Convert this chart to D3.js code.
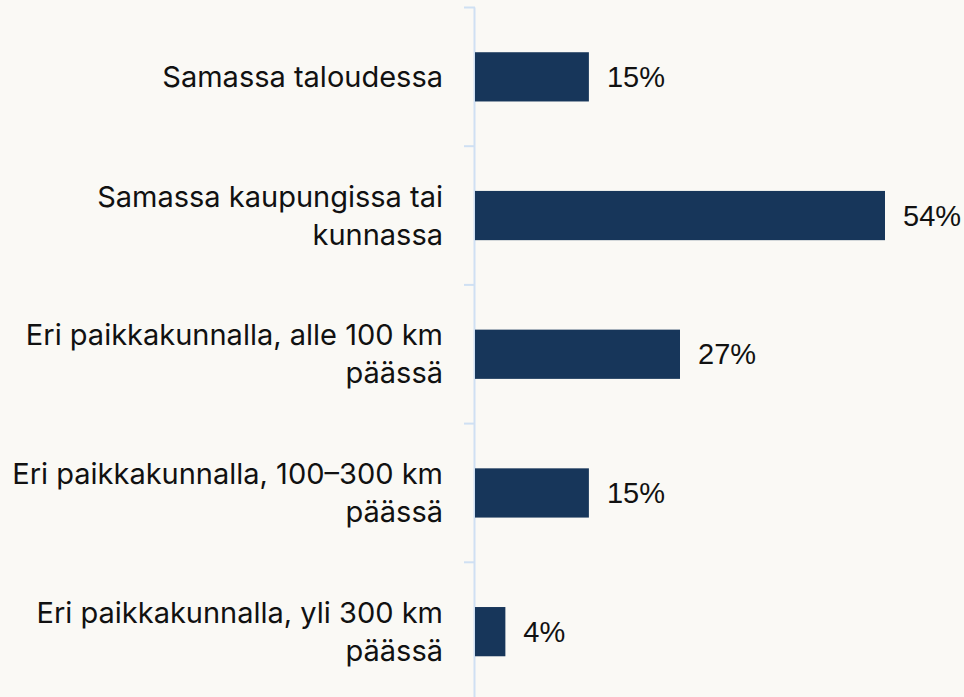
<!DOCTYPE html>
<html lang="fi">
  <head>
    <meta charset="UTF-8" />
    <title>Asuinpaikka</title>
    <style>
      html, body { margin: 0; padding: 0; background: #faf9f5; }
    </style>
  </head>
  <body>
    <script src="https://d3js.org/d3.v7.min.js"></script>
    <script>
      const width = 964
      const height = 697

      // luokat (rivitettyinä kuten kuvassa) ja osuudet
      const categories = [
        ["Samassa taloudessa"],
        ["Samassa kaupungissa tai", "kunnassa"],
        ["Eri paikkakunnalla, alle 100 km", "päässä"],
        ["Eri paikkakunnalla, 100–300 km", "päässä"],
        ["Eri paikkakunnalla, yli 300 km", "päässä"]
      ]
      const values = [15, 54, 27, 15, 4]

      const x0 = 475
      const svg = d3.select("body").append("svg")
        .attr("width", width)
        .attr("height", height)
        .style("display", "block")
        .style("background", "#faf9f5")

      const y = d3.scaleBand()
        .domain(d3.range(categories.length))
        .range([7.5, 701])
        .paddingInner(0.645)
        .paddingOuter(0.3225)

      const x = d3.scaleLinear()
        .domain([0, 54])
        .range([x0, 885])

      // pystyakseli ja jakoviivat
      const bounds = d3.range(categories.length + 1).map(i => 7.5 + i * (701 - 7.5) / categories.length)
      svg.append("line")
        .attr("x1", x0 - 0.5).attr("x2", x0 - 0.5)
        .attr("y1", bounds[0]).attr("y2", height)
        .attr("stroke", "#cfe0f3").attr("stroke-width", 2)
      svg.selectAll(".tick")
        .data(bounds)
        .enter().append("line")
        .attr("x1", x0 - 11).attr("x2", x0)
        .attr("y1", d => d).attr("y2", d => d)
        .attr("stroke", "#cfe0f3").attr("stroke-width", 2)

      svg.selectAll("rect")
        .data(values)
        .enter().append("rect")
        .attr("x", x0)
        .attr("y", (d, i) => y(i))
        .attr("width", d => x(d) - x0)
        .attr("height", y.bandwidth())
        .attr("fill", "#17365a")

      svg.selectAll(".value")
        .data(values)
        .enter().append("text")
        .attr("x", d => x(d) + 18)
        .attr("y", (d, i) => y(i) + y.bandwidth() / 2)
        .attr("dy", "0.35em")
        .attr("font-family", "Liberation Sans, Arial, sans-serif")
        .attr("font-size", 29)
        .attr("fill", "#111")
        .text(d => d + "%")

      const lineH = 38
      svg.selectAll(".label")
        .data(categories)
        .enter().append("text")
        .attr("text-anchor", "end")
        .attr("font-family", "Inter, sans-serif")
        .attr("font-size", 29)
        .attr("fill", "#111")
        .each(function (lines, i) {
          const cy = y(i) + y.bandwidth() / 2
          const top = cy - (lines.length - 1) * lineH / 2
          d3.select(this).selectAll("tspan")
            .data(lines)
            .enter().append("tspan")
            .attr("x", 443)
            .attr("y", (d, j) => top + j * lineH)
            .attr("dy", "0.35em")
            .text(d => d)
        })
    </script>
  </body>
</html>
